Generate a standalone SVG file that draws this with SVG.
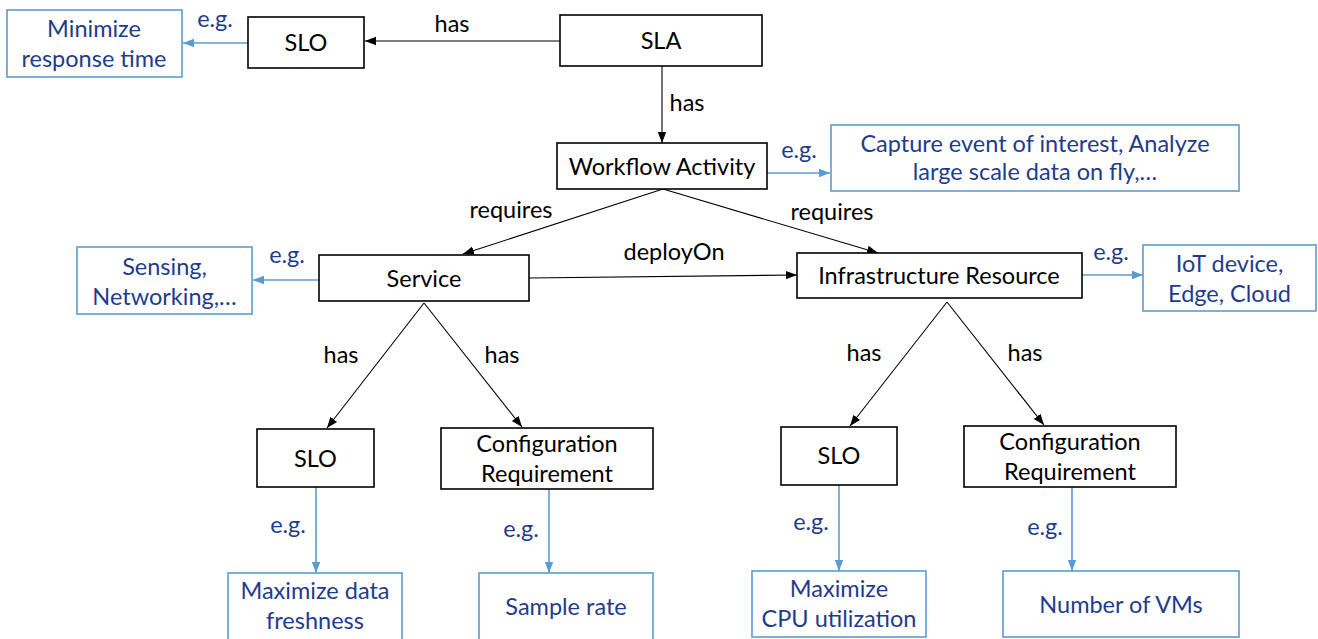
<svg xmlns="http://www.w3.org/2000/svg" width="1318" height="639" viewBox="0 0 1318 639">
<defs>
<marker id="ab" markerUnits="userSpaceOnUse" markerWidth="12" markerHeight="10" refX="11" refY="5" orient="auto"><path d="M0,0.8 L11,5 L0,9.2 Z" fill="#000"/></marker>
<marker id="ablue" markerUnits="userSpaceOnUse" markerWidth="12" markerHeight="10" refX="11" refY="5" orient="auto"><path d="M0,0.8 L11,5 L0,9.2 Z" fill="#5B9BD5"/></marker>
<style>
.n{fill:#fff;stroke:#000;stroke-width:1.6}
.b{fill:#fff;stroke:#5B9BD5;stroke-width:1.6}
text{font-family:Lato,"Open Sans","Liberation Sans",sans-serif;font-size:23.5px;text-anchor:middle}
.t{fill:#000}
.bt{fill:#1F3C8C}
.c{stroke:#000;stroke-width:1.1;fill:none;marker-end:url(#ab)}
.cb{stroke:#5B9BD5;stroke-width:1.6;fill:none;marker-end:url(#ablue)}
</style>
</defs>
<rect width="1318" height="639" fill="#fff"/>
<g id="connectors">
<line class="c" x1="560" y1="41" x2="365" y2="41"/>
<line class="c" x1="662" y1="66" x2="662" y2="143"/>
<line class="c" x1="663" y1="189" x2="463" y2="254"/>
<line class="c" x1="663" y1="189" x2="878" y2="253"/>
<line class="c" x1="529" y1="278" x2="797" y2="275"/>
<line class="c" x1="424" y1="303" x2="327" y2="428"/>
<line class="c" x1="424" y1="303" x2="522" y2="427"/>
<line class="c" x1="947" y1="302" x2="850" y2="426"/>
<line class="c" x1="947" y1="302" x2="1044" y2="425"/>
<line class="cb" x1="248" y1="43" x2="183" y2="43"/>
<line class="cb" x1="767" y1="173" x2="830" y2="173"/>
<line class="cb" x1="319" y1="280" x2="253" y2="280"/>
<line class="cb" x1="1082" y1="275" x2="1143" y2="275"/>
<line class="cb" x1="316" y1="487" x2="316" y2="573"/>
<line class="cb" x1="549" y1="489" x2="549" y2="573"/>
<line class="cb" x1="839" y1="485" x2="839" y2="571"/>
<line class="cb" x1="1072" y1="487" x2="1072" y2="571"/>
<text class="t" x="452" y="32">has</text>
<text class="t" x="687" y="111">has</text>
<text class="t" x="511" y="218">requires</text>
<text class="t" x="832" y="220">requires</text>
<text class="t" x="674" y="260">deployOn</text>
<text class="t" x="341" y="363">has</text>
<text class="t" x="502" y="363">has</text>
<text class="t" x="864" y="361">has</text>
<text class="t" x="1025" y="361">has</text>
<text class="bt" x="215" y="27">e.g.</text>
<text class="bt" x="799" y="158">e.g.</text>
<text class="bt" x="287" y="263">e.g.</text>
<text class="bt" x="1111" y="260">e.g.</text>
<text class="bt" x="288" y="533">e.g.</text>
<text class="bt" x="521" y="537">e.g.</text>
<text class="bt" x="811" y="530">e.g.</text>
<text class="bt" x="1045" y="535">e.g.</text>
</g>
<g id="sla"><rect class="n" x="560" y="15" width="202" height="51"/><text class="t" x="661" y="49">SLA</text></g>
<g id="slo-top"><rect class="n" x="248" y="17" width="116" height="51"/><text class="t" x="306" y="51">SLO</text></g>
<g id="workflow"><rect class="n" x="557" y="143" width="210" height="46"/><text class="t" x="662" y="175">Workflow Activity</text></g>
<g id="service"><rect class="n" x="319" y="255" width="210" height="46"/><text class="t" x="424" y="287">Service</text></g>
<g id="infra"><rect class="n" x="797" y="253" width="285" height="45"/><text class="t" x="939" y="284">Infrastructure Resource</text></g>
<g id="slo-l"><rect class="n" x="257" y="429" width="117" height="58"/><text class="t" x="315.5" y="467">SLO</text></g>
<g id="config-l"><rect class="n" x="441" y="428" width="212" height="61"/><text class="t" x="547" y="452">Configuration</text><text class="t" x="547" y="482">Requirement</text></g>
<g id="slo-r"><rect class="n" x="781" y="427" width="116" height="58"/><text class="t" x="839" y="464">SLO</text></g>
<g id="config-r"><rect class="n" x="964" y="426" width="212" height="61"/><text class="t" x="1070" y="450">Configuration</text><text class="t" x="1070" y="480">Requirement</text></g>
<g id="ex-minresp"><rect class="b" x="7" y="10" width="175" height="67"/><text class="bt" x="94" y="37">Minimize</text><text class="bt" x="94" y="67">response time</text></g>
<g id="ex-capture"><rect class="b" x="831" y="125" width="408" height="66"/><text class="bt" x="1035" y="152">Capture event of interest, Analyze</text><text class="bt" x="1035" y="180">large scale data on fly,…</text></g>
<g id="ex-sensing"><rect class="b" x="77" y="247" width="175" height="67"/><text class="bt" x="164.5" y="275">Sensing,</text><text class="bt" x="164.5" y="305">Networking,…</text></g>
<g id="ex-iot"><rect class="b" x="1143" y="245" width="173" height="66"/><text class="bt" x="1229.5" y="272">IoT device,</text><text class="bt" x="1229.5" y="302">Edge, Cloud</text></g>
<g id="ex-fresh"><rect class="b" x="228" y="573" width="174" height="72"/><text class="bt" x="315" y="599">Maximize data</text><text class="bt" x="315" y="629">freshness</text></g>
<g id="ex-sample"><rect class="b" x="479" y="573" width="174" height="72"/><text class="bt" x="566" y="615">Sample rate</text></g>
<g id="ex-cpu"><rect class="b" x="752" y="571" width="174" height="66"/><text class="bt" x="839" y="597">Maximize</text><text class="bt" x="839" y="627">CPU utilization</text></g>
<g id="ex-vms"><rect class="b" x="1003" y="571" width="236" height="66"/><text class="bt" x="1121" y="613">Number of VMs</text></g>
</svg>
